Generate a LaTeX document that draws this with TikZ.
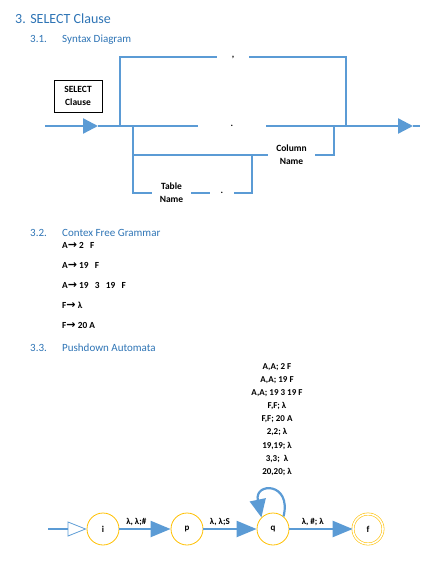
\documentclass[tikz,border=0pt]{standalone}
\usepackage{fontspec}
\setmainfont{Carlito}
\newfontfamily\arrowfont{DejaVu Sans}
\usetikzlibrary{arrows.meta}
\definecolor{lineblue}{HTML}{5B9BD5}
\definecolor{headblue}{HTML}{2E74B5}
\definecolor{stateyellow}{HTML}{FFC000}
\newcommand{\arr}{{\arrowfont\bfseries\fontsize{11}{10}\selectfont →}}
\tikzstyle{heading}=[
        anchor=base west,
        inner sep=0pt,
        text=headblue
]
\tikzstyle{rail}=[
        draw=lineblue,
        line width=2.4pt
]
\tikzstyle{railtip}=[
        -{Triangle[length=15pt,width=15pt]}
]
\tikzstyle{gap}=[
        inner sep=0pt,
        align=center,
        font=\bfseries\fontsize{9.5}{13}\selectfont
]
\tikzstyle{state}=[
        circle,
        draw=stateyellow,
        fill=white,
        line width=0.8pt,
        minimum size=32pt,
        inner sep=0pt,
        font=\bfseries\fontsize{9}{10}\selectfont
]
\tikzstyle{accept}=[
        double=white,
        double distance=1.6pt,
        line width=0.6pt,
        minimum size=30pt
]
\tikzstyle{move}=[
        draw=lineblue,
        line width=2.2pt,
        -{Triangle[length=20pt,width=16pt]}
]
\tikzstyle{movelabel}=[
        font=\bfseries\fontsize{9}{10}\selectfont,
        inner sep=1pt,
        above=1.5pt
]

\begin{document}
\begin{tikzpicture}[x=1pt,y=-1pt]
                        \useasboundingbox (0,0) rectangle (446,584);

                        \node[heading, font=\fontsize{14}{16}\selectfont] (title) at (15,23.5) {3.\hspace{4.5pt}SELECT Clause};
                        \node[heading, font=\fontsize{11}{13}\selectfont] (num1) at (30,42.5) {3.1.};
                        \node[heading, font=\fontsize{11}{13}\selectfont] (sec1) at (62,42.5) {Syntax Diagram};
                        \node[heading, font=\fontsize{11}{13}\selectfont] (num2) at (30,236) {3.2.};
                        \node[heading, font=\fontsize{11}{13}\selectfont] (sec2) at (62,236) {Contex Free Grammar};
                        \node[heading, font=\fontsize{11}{13}\selectfont] (num3) at (30,351) {3.3.};
                        \node[heading, font=\fontsize{11}{13}\selectfont] (sec3) at (62,351) {Pushdown Automata};

                        \node[draw, fill=white, line width=0.8pt, minimum width=48pt, minimum height=32pt,
                              align=center, font=\bfseries\fontsize{9.5}{13}\selectfont] (select) at (78,96) {SELECT\\Clause};

                        \coordinate (in) at (45,126);
                        \coordinate (inTip) at (98,126);
                        \coordinate (split) at (120,126);
                        \coordinate (down) at (133,126);
                        \coordinate (back) at (334,126);
                        \coordinate (join) at (346,126);
                        \coordinate (outTip) at (413,126);
                        \coordinate (out) at (420,126);
                        \coordinate (tableUp) at (252,155);

                        \node[gap, minimum width=32pt] (comma) at (233,57) {,};
                        \node[gap, minimum width=68pt] (dot) at (232,126) {.};
                        \node[gap, minimum width=47pt] (column) at (291.5,155) {Column\\Name};
                        \node[gap, minimum width=39pt] (table) at (171.5,193) {Table\\Name};
                        \node[gap, minimum width=24pt] (sep) at (222,193) {.};

                        \draw[rail, railtip] (in) -- (inTip);
                        \draw[rail] (inTip) -- (dot.west);
                        \draw[rail, railtip] (dot.east) -- (outTip);
                        \draw[rail] (outTip) -- (out);

                        \draw[rail] (split) |- (comma.west);
                        \draw[rail] (comma.east) -| (join);

                        \draw[rail] (down) |- (column.west);
                        \draw[rail] (column.east) -| (back);

                        \draw[rail] (down) |- (table.west);
                        \draw[rail] (table.east) -- (sep.west);
                        \draw[rail] (sep.east) -| (tableUp);

                        \foreach \y/\txt [count=\k] in {248.5/{A\arr{} 2\ \ \ F},
                                                       268.5/{A\arr{} 19\ \ \ F},
                                                       288.5/{A\arr{} 19\ \ \ 3\ \ \ 19\ \ \ F},
                                                       308.5/{F\arr{} λ},
                                                       328.5/{F\arr{} 20 A}} {
                            \node[anchor=base west, inner sep=0pt, font=\bfseries\fontsize{9.3}{10}\selectfont] (rule\k) at (62,\y) {\txt};
                        }

                        \node[state] (i) at (103,529) {i};
                        \node[state] (p) at (187,529) {p};
                        \node[state] (q) at (273,529) {q};
                        \node[state, accept] (f) at (368,529) {f};
                        \coordinate (start) at (48,529);

                        \node[align=center, font=\bfseries\fontsize{9}{13.1}\selectfont] (stack) at (277,419.5)
                            {A,A; 2 F\\A,A; 19 F\\A,A; 19 3 19 F\\F,F; λ\\F,F; 20 A\\2,2; λ\\19,19; λ\\3,3;\ \ λ\\20,20; λ};

                        \draw[rail, -{Triangle[open,length=19pt,width=15pt,line width=0.8pt]}] (start) -- (i);
                        \draw[move] (i) -- node[movelabel, pos=0.33] (ip) {λ, λ;\#} (p);
                        \draw[move] (p) -- node[movelabel, pos=0.31] (pq) {λ, λ;S} (q);
                        \draw[move] (q) -- node[movelabel, pos=0.37] (qf) {λ, \#; λ} (f);
                        \draw[move, -{Triangle[length=18pt,width=16pt]}] (q.50) .. controls (292,482) and (254,482) .. (q.135);

                    \end{tikzpicture}
\end{document}
